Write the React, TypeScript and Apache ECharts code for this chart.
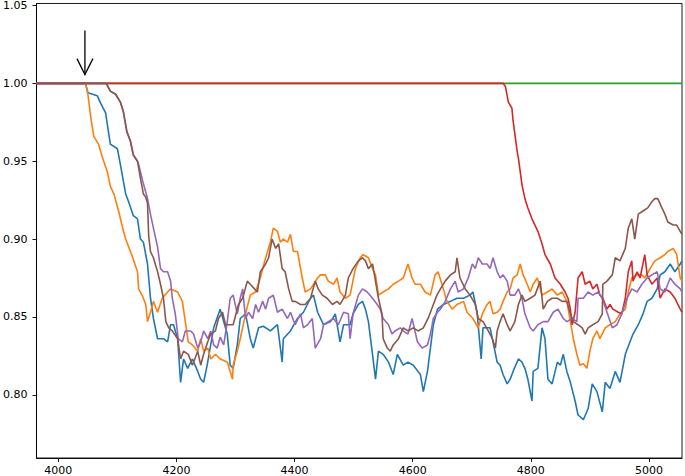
import React, { useEffect, useRef } from "react";
import * as echarts from "echarts";

const xTicks = [4000, 4200, 4400, 4600, 4800, 5000];
const yTicks = [0.8, 0.85, 0.9, 0.95, 1.0, 1.05];
const xRange = [3963, 5056];
const yRange = [0.7594, 1.0513];

// arrow annotation: [x, yStart, yTip]
const arrow = [4045, 1.034, 1.0056];

const blue: [number, number][] = [
  [3963, 1.0], [4046, 1.0], [4050, 0.994], [4066, 0.992], [4072, 0.987], [4080, 0.981], [4088, 0.961],
  [4100, 0.958], [4105, 0.948], [4114, 0.929], [4119, 0.924], [4127, 0.915], [4134, 0.913], [4139, 0.9],
  [4144, 0.898], [4151, 0.884], [4156, 0.862], [4161, 0.849], [4168, 0.836], [4178, 0.836], [4185, 0.834],
  [4190, 0.845], [4195, 0.845], [4202, 0.836], [4207, 0.808], [4212, 0.823], [4219, 0.817], [4227, 0.823],
  [4236, 0.815], [4241, 0.81], [4246, 0.808], [4252, 0.819], [4263, 0.843], [4274, 0.855], [4286, 0.839],
  [4291, 0.819], [4296, 0.817], [4303, 0.832], [4308, 0.849], [4317, 0.852], [4325, 0.836], [4330, 0.83],
  [4339, 0.843], [4347, 0.844], [4359, 0.841], [4371, 0.845], [4379, 0.821], [4381, 0.836], [4393, 0.841],
  [4405, 0.849], [4415, 0.853], [4427, 0.862], [4432, 0.864], [4439, 0.853], [4449, 0.845], [4461, 0.847],
  [4469, 0.852], [4477, 0.834], [4483, 0.845], [4494, 0.845], [4499, 0.852], [4508, 0.858], [4515, 0.86],
  [4520, 0.855], [4525, 0.847], [4532, 0.826], [4537, 0.81], [4542, 0.828], [4550, 0.826], [4559, 0.821],
  [4567, 0.813], [4574, 0.826], [4584, 0.819], [4592, 0.821], [4601, 0.819], [4613, 0.813], [4618, 0.802],
  [4625, 0.815], [4630, 0.83], [4635, 0.845], [4642, 0.855], [4652, 0.858], [4664, 0.86], [4675, 0.862],
  [4686, 0.862], [4697, 0.864], [4702, 0.866], [4709, 0.853], [4716, 0.823], [4719, 0.843], [4723, 0.843],
  [4731, 0.843], [4736, 0.834], [4743, 0.821], [4748, 0.819], [4753, 0.813], [4760, 0.807], [4765, 0.81],
  [4770, 0.815], [4779, 0.823], [4785, 0.821], [4790, 0.817], [4795, 0.81], [4802, 0.796], [4804, 0.815],
  [4812, 0.817], [4819, 0.843], [4824, 0.836], [4829, 0.81], [4836, 0.807], [4845, 0.821], [4850, 0.819],
  [4855, 0.826], [4861, 0.815], [4867, 0.808], [4875, 0.796], [4880, 0.787], [4889, 0.784], [4897, 0.791],
  [4904, 0.807], [4912, 0.802], [4921, 0.789], [4926, 0.808], [4934, 0.804], [4943, 0.815], [4951, 0.808],
  [4960, 0.826], [4968, 0.834], [4973, 0.839], [4982, 0.845], [4990, 0.852], [4997, 0.86], [5005, 0.862],
  [5014, 0.868], [5019, 0.877], [5027, 0.879], [5036, 0.884], [5044, 0.879], [5053, 0.884], [5056, 0.886],
];

const orange: [number, number][] = [
  [3963, 1.0], [4046, 1.0], [4050, 0.993], [4055, 0.978], [4060, 0.966], [4068, 0.961], [4075, 0.952],
  [4083, 0.943], [4088, 0.934], [4094, 0.929], [4102, 0.918], [4109, 0.907], [4114, 0.9], [4117, 0.897],
  [4126, 0.888], [4134, 0.879], [4136, 0.868], [4143, 0.863], [4148, 0.858], [4151, 0.847], [4156, 0.853],
  [4161, 0.86], [4168, 0.853], [4176, 0.862], [4185, 0.866], [4190, 0.868], [4202, 0.866], [4210, 0.86],
  [4215, 0.847], [4220, 0.834], [4227, 0.832], [4236, 0.828], [4241, 0.836], [4246, 0.828], [4253, 0.83],
  [4258, 0.823], [4266, 0.826], [4274, 0.823], [4286, 0.821], [4295, 0.81], [4296, 0.819], [4303, 0.828],
  [4308, 0.836], [4317, 0.852], [4325, 0.864], [4334, 0.866], [4342, 0.875], [4351, 0.888], [4359, 0.898],
  [4364, 0.907], [4371, 0.905], [4376, 0.898], [4381, 0.9], [4388, 0.898], [4393, 0.903], [4398, 0.892],
  [4405, 0.892], [4413, 0.875], [4418, 0.866], [4427, 0.868], [4439, 0.875], [4444, 0.877], [4452, 0.877],
  [4457, 0.873], [4466, 0.871], [4472, 0.875], [4477, 0.866], [4486, 0.862], [4494, 0.864], [4503, 0.881],
  [4511, 0.888], [4516, 0.89], [4525, 0.888], [4532, 0.881], [4537, 0.877], [4542, 0.864], [4550, 0.866],
  [4559, 0.868], [4567, 0.871], [4576, 0.873], [4584, 0.875], [4592, 0.884], [4599, 0.875], [4604, 0.871],
  [4613, 0.871], [4621, 0.866], [4630, 0.864], [4638, 0.877], [4643, 0.879], [4652, 0.868], [4658, 0.86],
  [4667, 0.855], [4675, 0.858], [4686, 0.86], [4692, 0.853], [4702, 0.849], [4711, 0.843], [4718, 0.852],
  [4726, 0.858], [4731, 0.86], [4736, 0.852], [4743, 0.853], [4748, 0.855], [4753, 0.86], [4760, 0.866],
  [4765, 0.868], [4770, 0.875], [4777, 0.877], [4782, 0.884], [4787, 0.877], [4794, 0.871], [4799, 0.866],
  [4804, 0.871], [4811, 0.875], [4819, 0.864], [4828, 0.866], [4836, 0.868], [4845, 0.864], [4853, 0.866],
  [4861, 0.86], [4867, 0.847], [4872, 0.836], [4878, 0.826], [4883, 0.819], [4889, 0.82], [4895, 0.817],
  [4900, 0.828], [4905, 0.836], [4912, 0.841], [4917, 0.836], [4926, 0.843], [4934, 0.845], [4943, 0.847],
  [4951, 0.852], [4960, 0.855], [4965, 0.866], [4971, 0.875], [4980, 0.877], [4988, 0.877], [4993, 0.875],
  [5002, 0.881], [5010, 0.886], [5019, 0.888], [5027, 0.89], [5032, 0.892], [5041, 0.894], [5047, 0.89],
  [5053, 0.875], [5056, 0.873],
];

const green: [number, number][] = [
  [3963, 1.0], [5056, 1.0],
];

const red: [number, number][] = [
  [3963, 1.0], [4753, 1.0], [4757, 0.998], [4762, 0.988], [4768, 0.984], [4770, 0.976], [4777, 0.956],
  [4779, 0.952], [4785, 0.935], [4790, 0.926], [4795, 0.92], [4802, 0.913], [4807, 0.909], [4812, 0.905],
  [4819, 0.897], [4824, 0.89], [4833, 0.884], [4841, 0.875], [4850, 0.871], [4858, 0.866], [4863, 0.862],
  [4867, 0.855], [4870, 0.845], [4875, 0.853], [4880, 0.875], [4887, 0.879], [4892, 0.871], [4900, 0.873],
  [4905, 0.868], [4912, 0.871], [4917, 0.864], [4922, 0.862], [4929, 0.855], [4934, 0.858], [4939, 0.855],
  [4948, 0.853], [4954, 0.852], [4960, 0.862], [4965, 0.879], [4971, 0.886], [4973, 0.873], [4980, 0.879],
  [4985, 0.875], [4993, 0.89], [4997, 0.877], [5005, 0.871], [5014, 0.875], [5019, 0.862], [5027, 0.868],
  [5036, 0.866], [5044, 0.862], [5053, 0.855], [5056, 0.853],
];

const purple: [number, number][] = [
  [3963, 1.0], [4081, 1.0], [4088, 0.995], [4097, 0.993], [4105, 0.988], [4110, 0.982], [4116, 0.969],
  [4122, 0.963], [4127, 0.954], [4134, 0.95], [4136, 0.948], [4143, 0.937], [4151, 0.926], [4156, 0.916],
  [4161, 0.907], [4168, 0.895], [4173, 0.881], [4178, 0.879], [4185, 0.879], [4190, 0.873], [4193, 0.862],
  [4198, 0.852], [4203, 0.836], [4210, 0.834], [4215, 0.841], [4224, 0.841], [4229, 0.839], [4236, 0.83],
  [4241, 0.834], [4246, 0.841], [4253, 0.836], [4258, 0.841], [4263, 0.832], [4269, 0.83], [4274, 0.837],
  [4280, 0.832], [4286, 0.847], [4291, 0.862], [4296, 0.864], [4303, 0.852], [4308, 0.862], [4312, 0.868],
  [4317, 0.849], [4322, 0.853], [4329, 0.849], [4334, 0.858], [4339, 0.853], [4346, 0.86], [4351, 0.855],
  [4356, 0.862], [4364, 0.864], [4371, 0.853], [4379, 0.855], [4388, 0.849], [4393, 0.853], [4401, 0.845],
  [4410, 0.852], [4415, 0.843], [4422, 0.845], [4430, 0.849], [4435, 0.83], [4444, 0.836], [4449, 0.845],
  [4457, 0.847], [4466, 0.849], [4474, 0.845], [4483, 0.853], [4491, 0.852], [4494, 0.836], [4499, 0.852],
  [4508, 0.864], [4515, 0.868], [4523, 0.866], [4532, 0.862], [4540, 0.858], [4545, 0.855], [4550, 0.849],
  [4559, 0.845], [4565, 0.839], [4570, 0.841], [4579, 0.843], [4584, 0.841], [4592, 0.839], [4599, 0.849],
  [4608, 0.834], [4616, 0.83], [4625, 0.832], [4630, 0.839], [4635, 0.849], [4642, 0.853], [4647, 0.855],
  [4655, 0.86], [4664, 0.868], [4672, 0.873], [4677, 0.866], [4686, 0.868], [4694, 0.875], [4701, 0.884],
  [4706, 0.881], [4711, 0.888], [4718, 0.884], [4726, 0.884], [4731, 0.881], [4736, 0.888], [4743, 0.879],
  [4748, 0.875], [4753, 0.877], [4760, 0.873], [4765, 0.864], [4773, 0.864], [4779, 0.868], [4785, 0.862],
  [4790, 0.852], [4799, 0.843], [4804, 0.841], [4812, 0.845], [4821, 0.847], [4829, 0.847], [4838, 0.853],
  [4846, 0.855], [4855, 0.849], [4861, 0.847], [4870, 0.849], [4878, 0.847], [4880, 0.862], [4889, 0.862],
  [4897, 0.866], [4905, 0.864], [4914, 0.866], [4921, 0.862], [4929, 0.853], [4938, 0.843], [4946, 0.845],
  [4954, 0.852], [4963, 0.862], [4971, 0.868], [4980, 0.866], [4988, 0.871], [4997, 0.875], [5005, 0.877],
  [5014, 0.879], [5019, 0.868], [5027, 0.866], [5036, 0.875], [5044, 0.871], [5053, 0.868], [5056, 0.866],
];

const brown: [number, number][] = [
  [3963, 1.0], [4081, 1.0], [4088, 0.995], [4097, 0.993], [4105, 0.988], [4110, 0.982], [4116, 0.969],
  [4122, 0.963], [4127, 0.954], [4134, 0.95], [4139, 0.939], [4144, 0.929], [4148, 0.927], [4151, 0.923],
  [4153, 0.902], [4156, 0.892], [4161, 0.888], [4168, 0.879], [4173, 0.871], [4178, 0.862], [4182, 0.847],
  [4187, 0.843], [4193, 0.841], [4202, 0.836], [4207, 0.823], [4212, 0.828], [4220, 0.826], [4227, 0.819],
  [4236, 0.828], [4241, 0.819], [4246, 0.826], [4253, 0.834], [4258, 0.839], [4266, 0.841], [4271, 0.849],
  [4278, 0.853], [4283, 0.845], [4291, 0.845], [4296, 0.845], [4305, 0.858], [4312, 0.862], [4320, 0.873],
  [4325, 0.871], [4337, 0.866], [4342, 0.879], [4351, 0.884], [4356, 0.888], [4362, 0.9], [4368, 0.894],
  [4373, 0.897], [4379, 0.881], [4384, 0.879], [4390, 0.868], [4396, 0.86], [4401, 0.86], [4410, 0.858],
  [4418, 0.858], [4427, 0.862], [4435, 0.873], [4440, 0.868], [4447, 0.864], [4455, 0.862], [4464, 0.858],
  [4472, 0.86], [4477, 0.858], [4486, 0.864], [4491, 0.875], [4499, 0.881], [4508, 0.886], [4515, 0.888],
  [4520, 0.886], [4525, 0.881], [4532, 0.884], [4537, 0.873], [4542, 0.862], [4548, 0.852], [4550, 0.836],
  [4557, 0.83], [4562, 0.828], [4567, 0.832], [4576, 0.836], [4584, 0.843], [4592, 0.841], [4601, 0.843],
  [4609, 0.841], [4618, 0.843], [4626, 0.849], [4635, 0.858], [4641, 0.864], [4647, 0.868], [4655, 0.873],
  [4664, 0.877], [4672, 0.879], [4675, 0.888], [4680, 0.875], [4689, 0.868], [4697, 0.864], [4706, 0.858],
  [4711, 0.849], [4719, 0.847], [4728, 0.841], [4735, 0.836], [4740, 0.83], [4743, 0.841], [4748, 0.847],
  [4753, 0.852], [4760, 0.845], [4765, 0.841], [4773, 0.847], [4779, 0.858], [4785, 0.864], [4790, 0.86],
  [4799, 0.862], [4807, 0.864], [4816, 0.873], [4821, 0.855], [4828, 0.86], [4836, 0.862], [4845, 0.862],
  [4853, 0.86], [4861, 0.86], [4867, 0.852], [4872, 0.847], [4880, 0.845], [4887, 0.843], [4892, 0.839],
  [4897, 0.843], [4905, 0.845], [4914, 0.847], [4921, 0.852], [4922, 0.871], [4929, 0.873], [4938, 0.877],
  [4943, 0.888], [4951, 0.886], [4960, 0.894], [4965, 0.907], [4971, 0.913], [4976, 0.9], [4982, 0.916],
  [4990, 0.918], [4998, 0.92], [5005, 0.924], [5010, 0.926], [5015, 0.926], [5022, 0.92], [5027, 0.916],
  [5032, 0.911], [5041, 0.909], [5047, 0.909], [5053, 0.905], [5056, 0.903],
];

const seriesList = [
  { name: "blue", data: blue, color: "#1f77b4" },
  { name: "orange", data: orange, color: "#ff7f0e" },
  { name: "green", data: green, color: "#2ca02c" },
  { name: "red", data: red, color: "#d62728" },
  { name: "purple", data: purple, color: "#9467bd" },
  { name: "brown", data: brown, color: "#8c564b" },
];

const FONT = "DejaVu Sans";

export default function App() {
  const ref = useRef<HTMLDivElement>(null);
  useEffect(() => {
    if (!ref.current) return;
    const chart = echarts.init(ref.current, null, { renderer: "svg" });
    const axisCommon = {
      axisLine: { show: true, onZero: false, lineStyle: { color: "#000", width: 0.9 } },
      axisTick: { show: true, length: 4, lineStyle: { color: "#000", width: 0.9 } },
      splitLine: { show: false },
    };
    chart.setOption({
      animation: false,
      grid: {
        left: 36,
        right: 3,
        top: 3,
        bottom: 18,
        show: true,
        borderColor: "#000",
        borderWidth: 0.9,
        backgroundColor: "#fff",
      },
      xAxis: {
        type: "value",
        min: xRange[0],
        max: xRange[1],
        ...axisCommon,
        axisTick: { ...axisCommon.axisTick, customValues: xTicks },
        axisLabel: {
          customValues: xTicks,
          margin: 7,
          color: "#000",
          fontFamily: FONT,
          fontSize: 11,
          formatter: (v: number) => String(Math.round(v)),
        },
      },
      yAxis: {
        type: "value",
        min: yRange[0],
        max: yRange[1],
        ...axisCommon,
        axisTick: { ...axisCommon.axisTick, customValues: yTicks },
        axisLabel: {
          customValues: yTicks,
          margin: 9,
          color: "#000",
          fontFamily: FONT,
          fontSize: 11,
          formatter: (v: number) => v.toFixed(2),
        },
      },
      series: [
        ...seriesList.map((s) => ({
          type: "line",
          name: s.name,
          data: s.data,
          showSymbol: false,
          symbol: "none",
          lineStyle: { color: s.color, width: 1.6 },
          itemStyle: { color: s.color },
          clip: true,
        })),
        {
          type: "custom",
          name: "arrow",
          data: [arrow],
          renderItem: (params: any, api: any) => {
            const top = api.coord([api.value(0), api.value(1)]);
            const tip = api.coord([api.value(0), api.value(2)]);
            return {
              type: "group",
              children: [
                {
                  type: "line",
                  shape: { x1: top[0], y1: top[1], x2: tip[0], y2: tip[1] },
                  style: { stroke: "#000", lineWidth: 1.3 },
                },
                {
                  type: "polyline",
                  shape: {
                    points: [
                      [tip[0] - 8, tip[1] - 16],
                      [tip[0], tip[1]],
                      [tip[0] + 8, tip[1] - 16],
                    ],
                  },
                  style: { stroke: "#000", fill: "none", lineWidth: 1.3 },
                },
              ],
            };
          },
        },
      ],
    });
    return () => chart.dispose();
  }, []);
  return (
    <div
      ref={ref}
      style={{ position: "absolute", left: 0, top: 0, width: 685, height: 476, background: "#fff" }}
    />
  );
}
